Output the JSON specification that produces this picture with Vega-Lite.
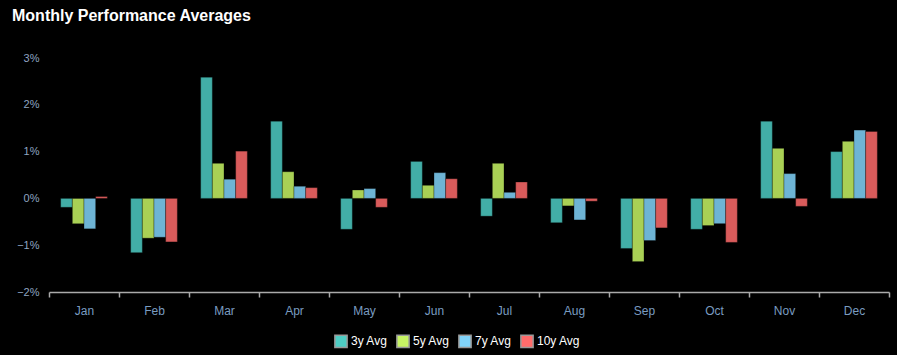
{
  "$schema": "https://vega.github.io/schema/vega-lite/v6.json",
  "width": 840,
  "height": 234,
  "autosize": {"type": "none"},
  "padding": {"left": 49, "top": 58, "right": 8, "bottom": 63},
  "background": "#000000",
  "title": {
    "text": "Monthly Performance Averages",
    "anchor": "start",
    "frame": "group",
    "dx": -37,
    "offset": 28,
    "font": "Liberation Sans",
    "fontSize": 16,
    "fontWeight": "bold",
    "color": "#ffffff"
  },
  "data": {
    "values": [
      {"month": "Jan", "series": "3y Avg", "value": -0.19},
      {"month": "Jan", "series": "5y Avg", "value": -0.54},
      {"month": "Jan", "series": "7y Avg", "value": -0.65},
      {"month": "Jan", "series": "10y Avg", "value": 0.04},
      {"month": "Feb", "series": "3y Avg", "value": -1.16},
      {"month": "Feb", "series": "5y Avg", "value": -0.85},
      {"month": "Feb", "series": "7y Avg", "value": -0.83},
      {"month": "Feb", "series": "10y Avg", "value": -0.93},
      {"month": "Mar", "series": "3y Avg", "value": 2.59},
      {"month": "Mar", "series": "5y Avg", "value": 0.75},
      {"month": "Mar", "series": "7y Avg", "value": 0.41},
      {"month": "Mar", "series": "10y Avg", "value": 1.01},
      {"month": "Apr", "series": "3y Avg", "value": 1.65},
      {"month": "Apr", "series": "5y Avg", "value": 0.57},
      {"month": "Apr", "series": "7y Avg", "value": 0.26},
      {"month": "Apr", "series": "10y Avg", "value": 0.23},
      {"month": "May", "series": "3y Avg", "value": -0.66},
      {"month": "May", "series": "5y Avg", "value": 0.18},
      {"month": "May", "series": "7y Avg", "value": 0.21},
      {"month": "May", "series": "10y Avg", "value": -0.19},
      {"month": "Jun", "series": "3y Avg", "value": 0.79},
      {"month": "Jun", "series": "5y Avg", "value": 0.28},
      {"month": "Jun", "series": "7y Avg", "value": 0.55},
      {"month": "Jun", "series": "10y Avg", "value": 0.42},
      {"month": "Jul", "series": "3y Avg", "value": -0.38},
      {"month": "Jul", "series": "5y Avg", "value": 0.75},
      {"month": "Jul", "series": "7y Avg", "value": 0.13},
      {"month": "Jul", "series": "10y Avg", "value": 0.35},
      {"month": "Aug", "series": "3y Avg", "value": -0.52},
      {"month": "Aug", "series": "5y Avg", "value": -0.16},
      {"month": "Aug", "series": "7y Avg", "value": -0.46},
      {"month": "Aug", "series": "10y Avg", "value": -0.06},
      {"month": "Sep", "series": "3y Avg", "value": -1.07},
      {"month": "Sep", "series": "5y Avg", "value": -1.35},
      {"month": "Sep", "series": "7y Avg", "value": -0.9},
      {"month": "Sep", "series": "10y Avg", "value": -0.63},
      {"month": "Oct", "series": "3y Avg", "value": -0.66},
      {"month": "Oct", "series": "5y Avg", "value": -0.58},
      {"month": "Oct", "series": "7y Avg", "value": -0.54},
      {"month": "Oct", "series": "10y Avg", "value": -0.94},
      {"month": "Nov", "series": "3y Avg", "value": 1.65},
      {"month": "Nov", "series": "5y Avg", "value": 1.07},
      {"month": "Nov", "series": "7y Avg", "value": 0.53},
      {"month": "Nov", "series": "10y Avg", "value": -0.17},
      {"month": "Dec", "series": "3y Avg", "value": 1.0},
      {"month": "Dec", "series": "5y Avg", "value": 1.22},
      {"month": "Dec", "series": "7y Avg", "value": 1.46},
      {"month": "Dec", "series": "10y Avg", "value": 1.43}
    ]
  },
  "mark": {
    "type": "bar",
    "fillOpacity": 0.85,
    "stroke": "#000000",
    "strokeOpacity": 0.3,
    "strokeWidth": 1
  },
  "encoding": {
    "x": {
      "field": "month",
      "type": "nominal",
      "sort": ["Jan","Feb","Mar","Apr","May","Jun","Jul","Aug","Sep","Oct","Nov","Dec"],
      "scale": {"paddingInner": 0, "paddingOuter": 0},
      "axis": {
        "title": null,
        "labelAngle": 0,
        "tickBand": "extent",
        "domainColor": "#aaaaaa",
        "tickColor": "#aaaaaa",
        "tickSize": 5,
        "labelColor": "#7a9cc0",
        "labelFont": "Liberation Sans",
        "labelFontSize": 12,
        "labelPadding": 8,
        "grid": false
      }
    },
    "xOffset": {
      "field": "series",
      "type": "nominal",
      "sort": ["3y Avg","5y Avg","7y Avg","10y Avg"],
      "scale": {"paddingInner": 0, "paddingOuter": 1.4}
    },
    "y": {
      "field": "value",
      "type": "quantitative",
      "scale": {"domain": [-2, 3], "nice": false},
      "axis": {
        "title": null,
        "values": [-2, -1, 0, 1, 2, 3],
        "format": ".0f",
        "labelExpr": "datum.label + '%'",
        "domain": false,
        "ticks": false,
        "grid": false,
        "labelColor": "#8fa5c0",
        "labelFont": "Liberation Sans",
        "labelFontSize": 11,
        "labelPadding": 10
      }
    },
    "color": {
      "field": "series",
      "type": "nominal",
      "sort": ["3y Avg","5y Avg","7y Avg","10y Avg"],
      "scale": {"domain": ["3y Avg","5y Avg","7y Avg","10y Avg"], "range": ["#4ecdc4","#c7f464","#81d4fa","#ff6b6b"]},
      "legend": {
        "title": null,
        "orient": "none",
        "direction": "horizontal",
        "legendX": 285,
        "legendY": 276,
        "symbolType": "square",
        "symbolSize": 150,
        "symbolOpacity": 1,
        "symbolStrokeColor": "#999999",
        "symbolStrokeWidth": 1.5,
        "labelColor": "#ffffff",
        "labelFont": "Liberation Sans",
        "labelFontSize": 12,
        "labelOffset": 3,
        "columnPadding": 5
      }
    }
  },
  "config": {
    "view": {"stroke": null},
    "axis": {"domainWidth": 1.5, "tickWidth": 1.5}
  }
}
